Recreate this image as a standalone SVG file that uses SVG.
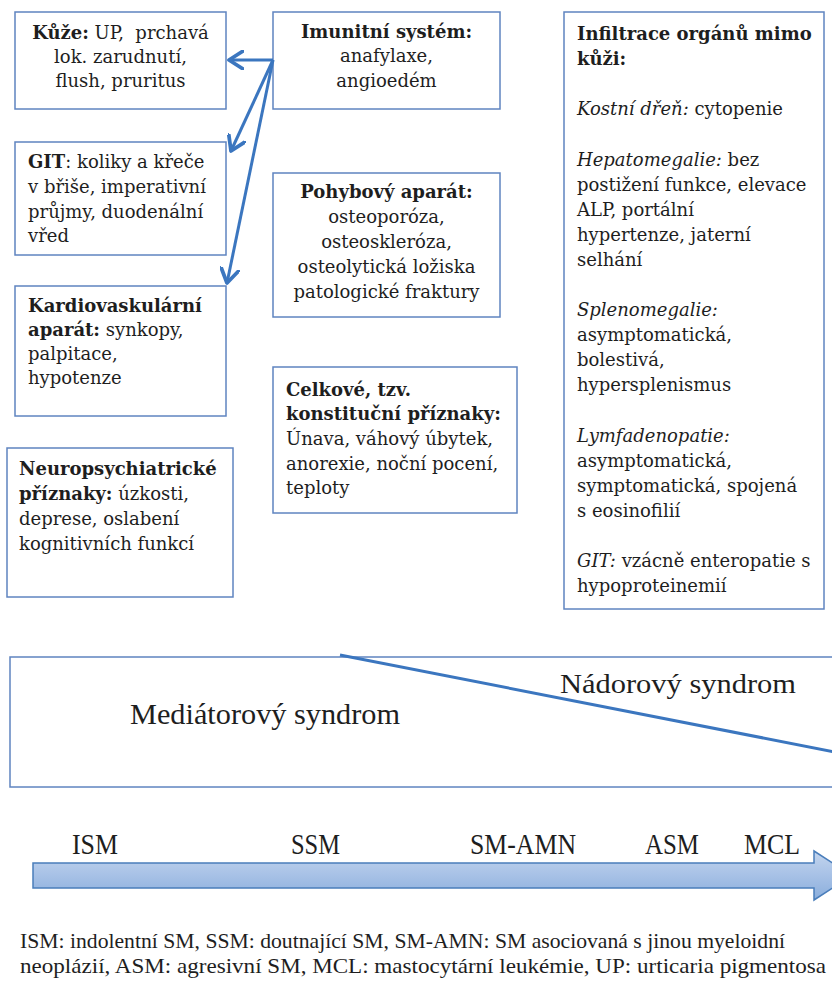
<svg xmlns="http://www.w3.org/2000/svg" width="832" height="987" viewBox="0 0 832 987">
<style>
.box{fill:#fff;stroke:#5f84c0;stroke-width:1.5}
.t{font-family:"DejaVu Serif",serif;font-size:18px;fill:#1e1e1e}
.c{text-anchor:middle}
.b{font-weight:bold}
.i{font-style:italic}
.conn{stroke:#3b76bf;stroke-width:3;fill:none}
.big{font-family:"Liberation Serif",serif;fill:#1e1e1e}
</style>
<defs>
<marker id="open" markerUnits="userSpaceOnUse" markerWidth="20" markerHeight="20" refX="12" refY="8" orient="auto" viewBox="0 0 16 16">
<path d="M1,1 L12,8 L1,15" fill="none" stroke="#3b76bf" stroke-width="3" stroke-linecap="round" stroke-linejoin="round"/>
</marker>
<linearGradient id="ag" x1="0" y1="0" x2="0" y2="1">
<stop offset="0" stop-color="#c3d5ee"/>
<stop offset="0.5" stop-color="#a7c1e6"/>
<stop offset="1" stop-color="#8aaedc"/>
</linearGradient>
</defs>

<g id="kuze">
<rect class="box" x="15" y="12" width="211" height="97"/>
<text class="t c" x="120.5" y="39"><tspan class="b">Kůže:</tspan> UP,&#160; prchavá</text>
<text class="t c" x="120.5" y="63">lok. zarudnutí,</text>
<text class="t c" x="120.5" y="87">flush, pruritus</text>
</g>

<g id="imunitni">
<rect class="box" x="273" y="12" width="227" height="97"/>
<text class="t c b" x="386.5" y="38">Imunitní systém:</text>
<text class="t c" x="386.5" y="62">anafylaxe,</text>
<text class="t c" x="386.5" y="87">angioedém</text>
</g>

<g id="git">
<rect class="box" x="15" y="142" width="211" height="113"/>
<text class="t" x="28" y="168"><tspan class="b">GIT</tspan>: koliky a křeče</text>
<text class="t" x="28" y="193">v břiše, imperativní</text>
<text class="t" x="28" y="218">průjmy, duodenální</text>
<text class="t" x="28" y="242">vřed</text>
</g>

<g id="kardio">
<rect class="box" x="15" y="286" width="211" height="130"/>
<text class="t b" x="28" y="312">Kardiovaskulární</text>
<text class="t" x="28" y="336"><tspan class="b">aparát:</tspan> synkopy,</text>
<text class="t" x="28" y="360">palpitace,</text>
<text class="t" x="28" y="384">hypotenze</text>
</g>

<g id="pohybovy">
<rect class="box" x="273" y="173" width="227" height="144"/>
<text class="t c b" x="386.5" y="198">Pohybový aparát:</text>
<text class="t c" x="386.5" y="223">osteoporóza,</text>
<text class="t c" x="386.5" y="248">osteoskleróza,</text>
<text class="t c" x="386.5" y="273">osteolytická ložiska</text>
<text class="t c" x="386.5" y="298">patologické fraktury</text>
</g>

<g id="neuro">
<rect class="box" x="7" y="448" width="226" height="149"/>
<text class="t b" x="19" y="475">Neuropsychiatrické</text>
<text class="t" x="19" y="500"><tspan class="b">příznaky:</tspan> úzkosti,</text>
<text class="t" x="19" y="525">deprese, oslabení</text>
<text class="t" x="19" y="550">kognitivních funkcí</text>
</g>

<g id="celkove">
<rect class="box" x="273" y="367" width="244" height="146"/>
<text class="t b" x="286" y="396">Celkové, tzv.</text>
<text class="t b" x="286" y="420">konstituční příznaky:</text>
<text class="t" x="286" y="445">Únava, váhový úbytek,</text>
<text class="t" x="286" y="470">anorexie, noční pocení,</text>
<text class="t" x="286" y="494">teploty</text>
</g>

<g id="infiltrace">
<rect class="box" x="564" y="12" width="260" height="597"/>
<text class="t b" x="577" y="40">Infiltrace orgánů mimo</text>
<text class="t b" x="577" y="65">kůži:</text>
<text class="t" x="577" y="115"><tspan class="i">Kostní dřeň:</tspan> cytopenie</text>
<text class="t" x="577" y="165.5"><tspan class="i">Hepatomegalie:</tspan> bez</text>
<text class="t" x="577" y="190.6">postižení funkce, elevace</text>
<text class="t" x="577" y="215.7">ALP, portální</text>
<text class="t" x="577" y="240.8">hypertenze, jaterní</text>
<text class="t" x="577" y="265.9">selhání</text>
<text class="t i" x="577" y="316">Splenomegalie:</text>
<text class="t" x="577" y="341.2">asymptomatická,</text>
<text class="t" x="577" y="366.3">bolestivá,</text>
<text class="t" x="577" y="391.4">hypersplenismus</text>
<text class="t i" x="577" y="441.6">Lymfadenopatie:</text>
<text class="t" x="577" y="466.7">asymptomatická,</text>
<text class="t" x="577" y="491.8">symptomatická, spojená</text>
<text class="t" x="577" y="516.9">s eosinofilií</text>
<text class="t" x="577" y="567.1"><tspan class="i">GIT:</tspan> vzácně enteropatie s</text>
<text class="t" x="577" y="592.2">hypoproteinemií</text>
</g>

<g id="connectors">
<line class="conn" x1="273" y1="60" x2="229" y2="60" marker-end="url(#open)"/>
<line class="conn" x1="273" y1="60" x2="231" y2="151" marker-end="url(#open)"/>
<line class="conn" x1="273" y1="60" x2="227" y2="283" marker-end="url(#open)"/>
</g>

<g id="syndromy">
<rect x="10" y="657" width="840" height="130" fill="#fff" stroke="#5f84c0" stroke-width="1.5"/>
<line x1="340" y1="655" x2="840" y2="753" stroke="#3b76bf" stroke-width="3"/>
<text class="big" x="560" y="693" font-size="28" textLength="236" lengthAdjust="spacingAndGlyphs">Nádorový syndrom</text>
<text class="big" x="130" y="724" font-size="29" textLength="270" lengthAdjust="spacingAndGlyphs">Mediátorový syndrom</text>
</g>

<g id="osa">
<polygon points="33,863 814,863 814,851 852,875.5 814,900 814,888 33,888" fill="url(#ag)" stroke="#4a7ebb" stroke-width="1.5"/>
<text class="big" x="72" y="854" font-size="30" textLength="46" lengthAdjust="spacingAndGlyphs">ISM</text>
<text class="big" x="291" y="854" font-size="30" textLength="49" lengthAdjust="spacingAndGlyphs">SSM</text>
<text class="big" x="470" y="854" font-size="30" textLength="106" lengthAdjust="spacingAndGlyphs">SM-AMN</text>
<text class="big" x="645" y="854" font-size="30" textLength="54" lengthAdjust="spacingAndGlyphs">ASM</text>
<text class="big" x="744" y="854" font-size="30" textLength="56" lengthAdjust="spacingAndGlyphs">MCL</text>
</g>

<g id="legenda">
<text class="big" x="20" y="948" font-size="21" textLength="765" lengthAdjust="spacingAndGlyphs">ISM: indolentní SM, SSM: doutnající SM, SM-AMN: SM asociovaná s jinou myeloidní</text>
<text class="big" x="20" y="973" font-size="21" textLength="806" lengthAdjust="spacingAndGlyphs">neoplázií, ASM: agresivní SM, MCL: mastocytární leukémie, UP: urticaria pigmentosa</text>
</g>
</svg>
